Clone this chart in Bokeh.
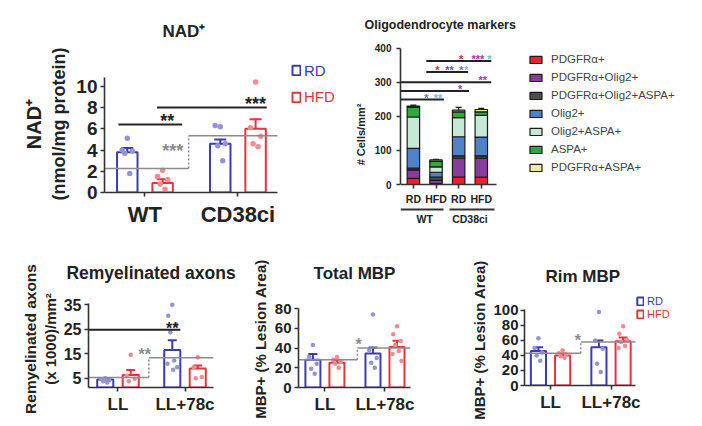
from bokeh.plotting import figure
from bokeh.models import (Range1d, FixedTicker, LinearAxis, Whisker, TeeHead,
                          ColumnDataSource, Legend, LegendItem)
from bokeh.layouts import row, column
from bokeh.embed import file_html
from bokeh.resources import INLINE
from bokeh.core.properties import value

# ------------------------------------------------------------------ data
diets = ["RD", "HFD"]

# NAD+ panel  (order: WT-RD, WT-HFD, CD38ci-RD, CD38ci-HFD)
nad_genotypes = ["WT", "CD38ci"]
nad_mean = [3.8, 0.9, 4.6, 6.0]
nad_sem = [0.4, 0.35, 0.4, 0.9]
nad_points = [
    [5.1, 4.0, 3.9, 3.7, 1.8],
    [2.1, 1.5, 1.2, 0.8, 0.3],
    [6.2, 6.3, 4.6, 4.4, 3.0],
    [10.4, 6.1, 5.3, 4.6, 4.3],
]
nad_yticks = [0, 2, 4, 6, 8, 10]
nad_sig_y = [6.4, 8.0]
nad_sig_text = ["**", "***"]
nad_ref_y = [2.26, 5.35]

# Oligodendrocyte markers (cells/mm2), bars: WT-RD, WT-HFD, CD38ci-RD, CD38ci-HFD
olig_bars = ["RD", "HFD", "RD", "HFD"]
olig_groups = ["WT", "CD38ci"]
markers = ["PDGFRα+", "PDGFRα+Olig2+", "PDGFRα+Olig2+ASPA+", "Olig2+",
           "Olig2+ASPA+", "ASPA+", "PDGFRα+ASPA+"]
pdgfra = [18, 3, 22, 22]
pdgfra_olig2 = [25, 9, 55, 55]
pdgfra_olig2_aspa = [5, 10, 7, 7]
olig2 = [58, 14, 56, 55]
olig2_aspa = [92, 16, 56, 64]
aspa = [28, 16, 17, 10]
pdgfra_aspa = [4, 4, 5, 7]
olig2_err = [14, 3, 4, 10]
total_err = [3, 2, 8, 3]
olig_yticks = [0, 100, 200, 300, 400]
olig_sig_y = [362, 330, 300, 274, 249]

# Remyelination panels (order: LL-RD, LL-HFD, LL+78c-RD, LL+78c-HFD)
lesion_groups = ["LL", "LL+78c"]
remy_mean = [4.5, 6.3, 16.5, 9.0]
remy_sem = [0.5, 2.0, 4.0, 1.2]
remy_points = [
    [5.0, 4.6, 4.2, 3.8, 3.3],
    [14.5, 6.0, 4.8, 3.8],
    [34.9, 30.4, 26.9, 23.7, 12.2, 10.9, 9.5, 8.4],
    [13.5, 9.5, 5.5, 5.0],
]
remy_yticks = [5, 15, 25, 35]
remy_sig_y = 24.7
remy_ref_y = [5.3, 13.3]

tmbp_mean = [28, 25, 34.5, 41]
tmbp_sem = [6, 2.5, 6, 6.5]
tmbp_points = [
    [43, 31, 24, 19, 14],
    [31, 28, 26, 24, 20],
    [74, 38, 30, 25, 20],
    [62, 54, 47, 43, 37, 34, 27],
]
tmbp_yticks = [0, 20, 40, 60, 80]
tmbp_ref_y = [28.2, 40]

rmbp_mean = [46, 40, 51, 59]
rmbp_sem = [5, 2.5, 9, 5]
rmbp_points = [
    [63, 50, 44, 40, 33],
    [47, 43, 41, 39, 37],
    [98, 60, 49, 29, 18],
    [79, 69, 61, 58, 53, 50],
]
rmbp_yticks = [0, 20, 40, 60, 80, 100]
rmbp_ref_y = [43, 58]

# ------------------------------------------------------------------ style
BLUE = "#3b3bb3"
RED = "#e4343c"
BLUE_PT = "#9393d8"
RED_PT = "#f38b90"
AX = "#333333"
GREY = "#8c8c8c"
INK = "#222222"
FONT = "Liberation Sans"
JITTER = [0.0, -0.25, 0.25, -0.12, 0.12, -0.3, 0.3, 0.05]
marker_colors = ["#e8232d", "#8a3c9e", "#4d4d4d", "#4f82c9",
                 "#c6e9d6", "#2eaa3c", "#eeee9a"]
star_colors = {"r": "#e8232d", "p": "#a03aa8", "b": "#4f82c9", "c": "#5cc6e2"}


def make_fig(w, h, left, right, top, bottom, xr, yr):
    p = figure(width=w, height=h, x_range=Range1d(*xr), y_range=Range1d(*yr),
               output_backend="svg", toolbar_location=None,
               min_border_left=left, min_border_right=right,
               min_border_top=top, min_border_bottom=bottom,
               background_fill_color="white", border_fill_color="white",
               outline_line_color=None, frame_align=False)
    p.xgrid.visible = False
    p.ygrid.visible = False
    return p


def style_axis(ax, size, standoff=3):
    ax.axis_line_color = AX
    ax.axis_line_width = 1.6
    ax.major_tick_line_color = AX
    ax.major_tick_line_width = 1.6
    ax.major_tick_out = 4
    ax.major_tick_in = 0
    ax.minor_tick_line_color = None
    ax.major_label_text_font = FONT
    ax.major_label_text_font_style = "bold"
    ax.major_label_text_font_size = size
    ax.major_label_text_color = INK
    ax.major_label_standoff = standoff


def style_label(ax, size, standoff=4):
    ax.axis_label_text_font = FONT
    ax.axis_label_text_font_style = "bold"
    ax.axis_label_text_font_size = size
    ax.axis_label_text_color = INK
    ax.axis_label_standoff = standoff


def outer_label(p, text, size, standoff=3):
    ax = LinearAxis(axis_label=text, ticker=FixedTicker(ticks=[]),
                    axis_line_color=None, major_tick_line_color=None,
                    minor_tick_line_color=None, major_tick_out=0,
                    major_label_standoff=0, major_label_text_font_size="0px")
    style_label(ax, size, standoff)
    p.add_layout(ax, "left")


def style_title(p, text, size, standoff, align="center", offset=0):
    p.title.text = text
    p.title.align = align
    p.title.offset = offset
    p.title.text_font = FONT
    p.title.text_font_style = "bold"
    p.title.text_font_size = size
    p.title.text_color = INK
    p.title.standoff = standoff


def grouped_panel(p, means, sems, points, dodge, bw, base, pt_size, head):
    xs = [g + (-dodge if s == 0 else dodge) for g in range(2) for s in range(2)]
    rends = {}
    for s, diet in enumerate(diets):
        idx = [k for k in range(4) if k % 2 == s]
        col = BLUE if s == 0 else RED
        src = ColumnDataSource(dict(x=[xs[k] for k in idx],
                                    top=[means[k] for k in idx],
                                    upper=[means[k] + sems[k] for k in idx]))
        r = p.vbar(x="x", top="top", bottom=base, width=bw, source=src,
                   fill_color="white", line_color=col, line_width=2)
        rends[diet] = r
        px, py = [], []
        for k in idx:
            for j, v in enumerate(points[k]):
                px.append(xs[k] + JITTER[j % len(JITTER)] * bw)
                py.append(v)
        p.scatter(px, py, size=pt_size, fill_color=BLUE_PT if s == 0 else RED_PT,
                  line_color=None)
        p.add_layout(Whisker(source=src, base="x", upper="upper", lower="top",
                             line_color=col, line_width=2, lower_head=None,
                             upper_head=TeeHead(size=head, line_color=col, line_width=2)))
    return xs, rends


def stars(p, xs, ys, texts, colors, size):
    p.text(x=xs, y=ys, text=texts, text_color=colors, text_align="center",
           text_baseline="middle", text_font=value(FONT), text_font_style="bold",
           text_font_size=size)


def ref_lines(p, x_lo, split, x_hi, ys, text_x, text_y, text, size):
    p.segment(x0=[x_lo, split], y0=ys, x1=[split, x_hi], y1=ys,
              line_color=GREY, line_width=1.5)
    p.segment(x0=[split], y0=[ys[0]], x1=[split], y1=[ys[1]],
              line_color=GREY, line_width=1.5, line_dash="2 2")
    stars(p, [text_x], [text_y], [text], [GREY], size)


def diet_legends(p, rends, x, ys, size, gw, gh, lh):
    for diet, col, vy in zip(diets, [BLUE, RED], ys):
        lg = Legend(items=[LegendItem(label=diet, renderers=[rends[diet]])],
                    location=(x, vy), orientation="vertical",
                    glyph_width=gw, glyph_height=gh, label_height=lh,
                    label_standoff=3, padding=0, margin=0, spacing=0,
                    border_line_color=None, background_fill_alpha=0,
                    label_text_font=FONT, label_text_font_size=size,
                    label_text_color=col)
        p.add_layout(lg, "center")


# ------------------------------------------------------------------ NAD+
p1 = make_fig(351, 235, 104, 2, 55, 43, (-0.435, 2.2), (0, 12.9))
xs1, r1 = grouped_panel(p1, nad_mean, nad_sem, nad_points, 0.19, 0.22, 0, 5.5, 12)
p1.xaxis.ticker = FixedTicker(ticks=[0, 1])
p1.xaxis.major_label_overrides = {i: g for i, g in enumerate(nad_genotypes)}
p1.xaxis.bounds = (-0.435, 1.425)
style_axis(p1.xaxis[0], "22px", 5)
p1.yaxis.ticker = FixedTicker(ticks=nad_yticks)
p1.yaxis.bounds = (0, 10.85)
style_axis(p1.yaxis[0], "19px", 3)
p1.yaxis.axis_label = "(nmol/mg protein)"
style_label(p1.yaxis[0], "18px", 4)
outer_label(p1, "NAD⁺", "20px", 2)
style_title(p1, "NAD⁺", "17px", 30, "left", 58)
p1.segment(x0=[-0.285, 0.13], y0=nad_sig_y, x1=[0.40, 1.31], y1=nad_sig_y,
           line_color=INK, line_width=2)
stars(p1, [0.24, 1.19], [y + 0.35 for y in nad_sig_y], nad_sig_text, [INK, INK], "18px")
ref_lines(p1, -0.435, 0.47, 1.425, nad_ref_y, 0.30, 3.9, "***", "18px")
diet_legends(p1, r1, 187, [113, 86.3], "15px", 10, 12, 18)

# ------------------------------------------------------------------ Oligodendrocytes
p2 = make_fig(349, 235, 48, 2, 40, 7, (-0.57, 12.6), (-129, 422.3))
xs2 = list(range(len(olig_bars)))
layers = [pdgfra, pdgfra_olig2, pdgfra_olig2_aspa, olig2, olig2_aspa, aspa, pdgfra_aspa]
src2 = ColumnDataSource({"x": xs2, **{m: v for m, v in zip(markers, layers)}})
r2 = p2.vbar_stack(markers, x="x", width=0.55, source=src2, fill_color=marker_colors,
                   line_color="#1a1a1a", line_width=1.2)
cum_olig2 = [sum(l[i] for l in layers[:4]) for i in xs2]
cum_total = [sum(l[i] for l in layers) for i in xs2]
wsrc = ColumnDataSource(dict(x=xs2 + xs2, lo=cum_olig2 + cum_total,
                             hi=[c + e for c, e in zip(cum_olig2, olig2_err)] +
                                [c + e for c, e in zip(cum_total, total_err)]))
p2.add_layout(Whisker(source=wsrc, base="x", upper="hi", lower="lo", line_color="#1a1a1a",
                      line_width=1.2, lower_head=None,
                      upper_head=TeeHead(size=6, line_color="#1a1a1a", line_width=1.2)))
p2.yaxis.bounds = (0, 400)
p2.yaxis.ticker = FixedTicker(ticks=olig_yticks)
style_axis(p2.yaxis[0], "10px", 5)
p2.yaxis.axis_label = "# Cells/mm²"
style_label(p2.yaxis[0], "11px", 5)
p2.xaxis.fixed_location = 0
p2.xaxis.bounds = (-0.57, 3.66)
p2.xaxis.ticker = FixedTicker(ticks=xs2)
p2.xaxis.major_label_overrides = {i: b for i, b in enumerate(olig_bars)}
style_axis(p2.xaxis[0], "10.5px", 4)
for g, (lo, hi) in enumerate([(-0.55, 1.32), (1.59, 3.57)]):
    gx = 2 * g + 0.5
    ax = LinearAxis(fixed_location=-74, bounds=(lo, hi), ticker=FixedTicker(ticks=[gx]),
                    major_label_overrides={gx: olig_groups[g]})
    style_axis(ax, "10.5px", 3)
    ax.axis_line_width = 2
    ax.major_tick_line_color = None
    ax.major_tick_out = 0
    p2.add_layout(ax, "below")
p2.segment(x0=[0.57, 0.57, -0.57, -0.57, -0.57], y0=olig_sig_y,
           x1=[3.44, 2.42, 3.44, 2.46, 1.35], y1=olig_sig_y,
           line_color=INK, line_width=2)
st = [(2.11, 0, "*", "r"), (2.85, 0, "***", "p"), (3.36, 0, "*", "c"),
      (1.06, 1, "*", "r"), (1.6, 1, "**", "p"), (2.11, 1, "*", "b"), (2.33, 1, "*", "c"),
      (3.07, 2, "**", "p"), (2.07, 3, "*", "p"),
      (0.57, 4, "*", "b"), (1.09, 4, "**", "c")]
stars(p2, [s[0] for s in st], [olig_sig_y[s[1]] + 6 for s in st], [s[2] for s in st],
      [star_colors[s[3]] for s in st], "11px")
style_title(p2, "Oligodendrocyte markers", "12.5px", 18, "left", -36)
lg2 = Legend(items=[LegendItem(label=m, renderers=[r]) for m, r in zip(markers, r2)],
             location=(128, 52), glyph_width=15, glyph_height=9, label_height=18,
             label_standoff=8, padding=0, margin=0, spacing=0,
             border_line_color=None, background_fill_alpha=0,
             label_text_font=FONT, label_text_font_size="11.5px", label_text_color="#444444")
p2.add_layout(lg2, "center")

# ------------------------------------------------------------------ Remyelinated axons
p3 = make_fig(240, 189, 88, 27, 55, 37, (-0.44, 1.425), (1.22, 40.7))
xs3, r3 = grouped_panel(p3, remy_mean, remy_sem, remy_points, 0.19, 0.24, 1.22, 4.5, 9)
p3.xaxis.ticker = FixedTicker(ticks=[0, 1])
p3.xaxis.major_label_overrides = {i: g for i, g in enumerate(lesion_groups)}
style_axis(p3.xaxis[0], "17px", 3)
p3.yaxis.ticker = FixedTicker(ticks=remy_yticks)
p3.yaxis.bounds = (1.22, 35.5)
style_axis(p3.yaxis[0], "16px", 3)
p3.yaxis.axis_label = "(x 1000)/mm²"
style_label(p3.yaxis[0], "15px", 2)
outer_label(p3, "Remyelinated axons", "15.5px", 0)
style_title(p3, "Remyelinated axons", "17.5px", 16)
p3.segment(x0=[-0.44], y0=[remy_sig_y], x1=[0.93], y1=[remy_sig_y], line_color=INK, line_width=2)
stars(p3, [0.81], [remy_sig_y + 0.5], ["**"], [INK], "16px")
ref_lines(p3, -0.44, 0.46, 1.425, remy_ref_y, 0.40, 14.8, "**", "16px")

# ------------------------------------------------------------------ Total MBP
p4 = make_fig(226, 189, 58, 56, 55, 37, (-0.44, 1.425), (0, 98.3))
xs4, r4 = grouped_panel(p4, tmbp_mean, tmbp_sem, tmbp_points, 0.2, 0.25, 0, 4.5, 9)
p4.xaxis.ticker = FixedTicker(ticks=[0, 1])
p4.xaxis.major_label_overrides = {i: g for i, g in enumerate(lesion_groups)}
style_axis(p4.xaxis[0], "17px", 3)
p4.yaxis.ticker = FixedTicker(ticks=tmbp_yticks)
p4.yaxis.bounds = (0, 80.5)
style_axis(p4.yaxis[0], "15px", 3)
p4.yaxis.axis_label = "MBP+ (% Lesion Area)"
style_label(p4.yaxis[0], "15px", 3)
style_title(p4, "Total MBP", "17px", 16)
ref_lines(p4, -0.44, 0.54, 1.425, tmbp_ref_y, 0.56, 44, "*", "16px")

# ------------------------------------------------------------------ Rim MBP
p5 = make_fig(234, 189, 58, 2, 59, 39, (-0.43, 2.446), (0, 121.3))
xs5, r5 = grouped_panel(p5, rmbp_mean, rmbp_sem, rmbp_points, 0.2, 0.25, 0, 4.5, 9)
p5.xaxis.ticker = FixedTicker(ticks=[0, 1])
p5.xaxis.major_label_overrides = {i: g for i, g in enumerate(lesion_groups)}
p5.xaxis.bounds = (-0.43, 1.405)
style_axis(p5.xaxis[0], "17px", 3)
p5.yaxis.ticker = FixedTicker(ticks=rmbp_yticks)
p5.yaxis.bounds = (0, 101)
style_axis(p5.yaxis[0], "15px", 2)
p5.yaxis.axis_label = "MBP+ (% Lesion Area)"
style_label(p5.yaxis[0], "15px", 2)
style_title(p5, "Rim MBP", "17px", 17, "left", 21)
ref_lines(p5, -0.43, 0.5, 1.405, rmbp_ref_y, 0.45, 60, "*", "16px")
diet_legends(p5, r5, 112, [77.8, 65.3], "11px", 8, 10, 12)

layout = column(row(p1, p2), row(p3, p4, p5))
open("out.html", "w").write(file_html(layout, INLINE))
